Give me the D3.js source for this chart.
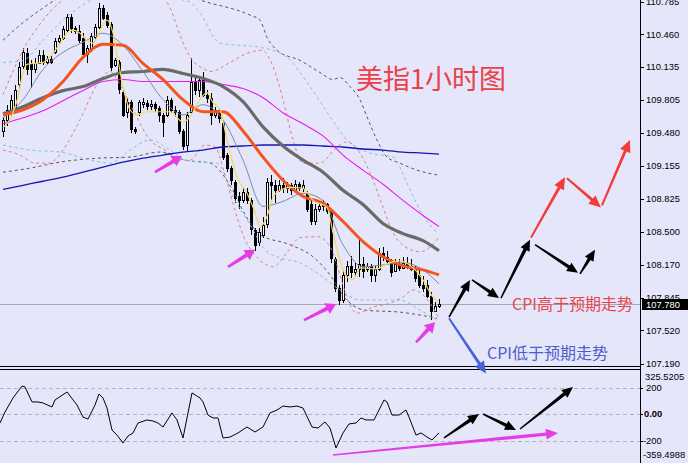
<!DOCTYPE html>
<html><head><meta charset="utf-8">
<script src="https://cdn.jsdelivr.net/npm/d3@7"></script>
<style>html,body{margin:0;padding:0;background:#E6E6FA;}svg{display:block}</style>
</head><body>
<svg id="c" width="688" height="463"></svg>
<script>
// ---------- DATA (USD index, 1-hour candles) ----------
const opens = [109.50,109.61,109.69,109.73,109.96,110.14,110.27,110.16,110.11,110.17,
110.25,110.18,110.21,110.28,110.39,110.42,110.50,110.63,110.52,110.49,
110.42,110.26,110.32,110.43,110.53,110.72,110.65,110.56,110.15,110.18,
109.89,109.69,109.79,109.52,109.69,109.77,109.78,109.75,109.77,109.73,
109.66,109.66,109.81,109.71,109.69,109.50,109.36,109.69,109.99,109.91,
110.01,109.86,109.83,109.66,109.71,109.58,109.26,109.13,108.99,108.85,
108.81,108.89,108.81,108.52,108.40,108.47,108.57,108.99,108.96,108.91,
108.96,108.93,108.96,108.91,108.97,108.93,108.88,108.77,108.60,108.72,
108.75,108.77,108.70,108.23,107.94,107.82,108.07,108.16,108.10,108.13,
108.18,108.13,108.16,108.07,108.13,108.29,108.25,108.21,108.11,108.18,
108.14,108.19,108.16,108.13,108.07,107.97,107.97,107.86,107.71,107.76];
const highs = [109.64,109.76,109.86,109.96,110.18,110.32,110.32,110.20,110.22,110.30,
110.30,110.24,110.24,110.42,110.45,110.54,110.66,110.66,110.54,110.55,
110.47,110.35,110.47,110.56,110.77,110.75,110.68,110.58,110.22,110.20,
109.91,109.83,109.81,109.54,109.81,109.83,109.81,109.81,109.79,109.75,
109.68,109.85,109.83,109.75,109.71,109.52,109.69,110.22,110.03,110.04,
110.08,109.91,109.88,109.74,109.73,109.60,109.28,109.15,109.01,108.89,
108.93,108.93,108.83,108.54,108.54,108.64,109.03,109.06,109.01,109.01,
109.03,108.99,108.98,109.01,108.99,109.01,108.90,108.81,108.77,108.78,
108.81,108.78,108.72,108.25,107.97,108.11,108.21,108.26,108.19,108.42,
108.25,108.19,108.18,108.16,108.34,108.35,108.31,108.23,108.23,108.23,
108.25,108.25,108.23,108.16,108.13,108.06,108.02,107.90,107.80,107.83];
const lows = [109.44,109.55,109.64,109.69,109.93,110.11,110.06,109.93,110.07,110.16,
110.15,110.16,110.16,110.26,110.36,110.40,110.48,110.47,110.46,110.37,
110.23,110.17,110.28,110.41,110.51,110.60,110.52,110.09,110.13,109.87,
109.64,109.63,109.48,109.47,109.65,109.73,109.71,109.71,109.69,109.59,
109.44,109.64,109.68,109.64,109.47,109.31,109.29,109.69,109.86,109.84,
109.84,109.78,109.56,109.63,109.58,109.21,109.09,108.96,108.78,108.72,
108.78,108.77,108.47,108.31,108.36,108.44,108.54,108.81,108.78,108.89,
108.88,108.88,108.86,108.88,108.90,108.89,108.69,108.57,108.57,108.69,
108.70,108.67,108.19,107.90,107.77,107.79,108.00,108.04,108.05,108.05,
108.04,108.10,108.00,108.00,108.11,108.21,108.18,108.05,108.11,108.11,
108.13,108.13,108.11,108.00,107.94,107.90,107.84,107.62,107.70,107.74];
const closes = [109.61,109.71,109.81,109.91,110.13,110.28,110.11,110.11,110.17,110.25,
110.18,110.21,110.18,110.39,110.42,110.51,110.63,110.52,110.49,110.40,
110.26,110.32,110.44,110.53,110.72,110.62,110.55,110.13,110.20,109.91,
109.66,109.79,109.52,109.50,109.79,109.79,109.75,109.77,109.73,109.66,
109.59,109.81,109.71,109.69,109.50,109.35,109.66,109.99,109.91,110.01,
109.86,109.83,109.66,109.71,109.63,109.24,109.13,109.01,108.83,108.81,
108.89,108.81,108.52,108.37,108.50,108.57,108.99,108.96,108.91,108.96,
108.93,108.96,108.91,108.97,108.93,108.96,108.72,108.60,108.72,108.75,
108.77,108.70,108.23,107.94,107.82,108.07,108.16,108.10,108.13,108.18,
108.11,108.16,108.07,108.13,108.29,108.25,108.21,108.10,108.18,108.14,
108.19,108.16,108.13,108.04,107.97,107.94,107.86,107.71,107.76,107.78];
const lastPrice = 107.780;

// moving averages sampled every 5 bars
const maIdx = [0,5,10,15,20,25,30,35,40,45,50,55,60,65,70,75,80,85,90,95,100,105,109];
const maOrange = [109.66,109.71,109.81,109.99,110.23,110.36,110.35,110.17,110.01,109.81,109.69,109.69,109.50,109.24,109.01,108.85,108.78,108.60,108.40,108.25,108.16,108.12,108.07];
const maGray = [109.67,109.74,109.83,109.90,109.94,110.02,110.08,110.09,110.11,110.07,110.02,109.94,109.79,109.54,109.35,109.21,109.09,108.91,108.77,108.58,108.48,108.41,108.31];
const maMagenta = [109.57,109.63,109.70,109.80,109.90,109.99,110.01,109.99,109.99,109.99,109.99,109.96,109.92,109.83,109.68,109.57,109.45,109.26,109.11,108.97,108.81,108.66,108.55];
const maBlue = [108.92,108.96,109.00,109.04,109.09,109.14,109.19,109.23,109.26,109.29,109.31,109.34,109.35,109.36,109.36,109.36,109.35,109.34,109.32,109.31,109.29,109.28,109.27];
const maSlate = [109.63,109.81,110.11,110.28,110.38,110.47,110.35,110.09,109.81,109.66,109.76,109.61,109.21,108.75,108.80,108.88,108.81,108.37,108.15,108.17,108.19,108.12,107.98];
// fast MA
const fastIdx = [0,2.5,3.75,4.75,6,7.5,10,12.5,14.25,16,17.5,19.25,21,22.5,24.25,26,27.5,28.75,30,31.75,33.5,36,37.5,41.75,45,46.75,48.75,51,52.5,54.25,56,58.5,61,63,64.25,66,67.5,69.25,71.75,75,77.5,81,82.5,84.25,86,87.5,89.25,93.5,96,99.25,102.5,105,107.5,109];
const fastVal = [109.53,109.68,109.84,110.04,110.16,110.17,110.18,110.27,110.37,110.47,110.50,110.47,110.40,110.37,110.50,110.60,110.47,110.20,109.94,109.71,109.66,109.69,109.69,109.69,109.59,109.64,109.78,109.88,109.78,109.71,109.41,109.04,108.88,108.69,108.55,108.65,108.84,108.91,108.94,108.93,108.81,108.74,108.49,108.21,108.05,108.02,108.14,108.13,108.18,108.21,108.14,108.02,107.85,107.80];

// envelope bands [barIndex, price]
const pinkUp = [[0,109.86],[5,110.30],[10,110.60],[15,110.80],[20,110.88],[25,110.90],[30,110.88],[35,110.85],[40,110.82],[42,110.70],[44.25,110.45],[47,110.22],[50,110.12],[52,110.09],[56.75,110.18],[61.75,110.28],[64.75,110.30],[67.5,110.14],[70,109.81],[72.5,109.41],[75,109.18],[79.25,109.18],[83.5,109.34],[86,109.39],[89.25,109.28],[92.5,109.01],[95,108.74],[97.5,108.49],[100.5,108.35],[104.25,108.30],[109,108.44]];
const pinkLo = [[0,109.31],[4.25,109.26],[8,109.18],[11.75,109.18],[15,109.31],[19.25,109.61],[23.5,109.96],[26.75,110.09],[29.25,109.96],[32.5,109.71],[36.75,109.41],[40.5,109.31],[44.25,109.21],[46.75,109.21],[50.5,109.36],[53,109.34],[55.5,109.06],[58,108.71],[60.5,108.42],[62.5,108.29],[65,108.19],[67.5,108.15],[71,108.29],[74.25,108.44],[78.5,108.45],[81.75,108.35],[84.25,108.07],[86,107.84],[88.5,107.69],[92.5,107.75],[96.75,107.79],[100,107.85],[102.5,107.92],[105.5,107.85],[109,107.64]];
const cyanUp = [[0,110.18],[5,110.20],[10,110.40],[15,110.60],[20,110.75],[25,110.85],[31.75,110.88],[36.75,110.85],[41.75,110.82],[46.75,110.78],[49.25,110.67],[54.25,110.37],[59.25,110.35],[64.25,110.33],[71,110.23],[76.75,109.94],[81.75,109.64],[86,109.41],[91.75,109.28],[97.5,109.24],[101,108.98],[104.25,108.71],[108.5,108.49]];
const cyanLo = [[0,109.36],[6.75,109.31],[14.25,109.29],[21.75,109.21],[26.75,109.18],[31.75,109.31],[36.75,109.41],[41.75,109.31],[45.5,109.21],[49.25,109.19],[53.5,109.18],[58,108.81],[61.75,108.57],[65.5,108.32],[69.25,108.24],[74.25,108.19],[79.25,108.07],[84.25,107.92],[89.25,107.82],[94.25,107.82],[99.25,107.82],[104.25,107.72],[108.5,107.62]];
const darkUp = [[0,110.40],[4.25,110.55],[9.25,110.70],[13,110.80],[19.25,110.95],[36.75,111.00],[49.25,110.80],[61.75,110.65],[64.25,110.60],[66,110.43],[68.5,110.30],[74.25,110.20],[79.25,110.08],[82.5,110.01],[84.25,110.03],[86.75,109.94],[89.25,109.81],[91,109.64],[93.5,109.41],[96,109.24],[99.25,109.18],[103.5,109.11],[109,109.06]];
const darkLo = [[0,109.09],[6.75,109.13],[14.25,109.19],[24.25,109.23],[31.75,109.24],[39.25,109.29],[45.5,109.21],[51.75,109.18],[56.75,108.96],[60.5,108.67],[64.25,108.47],[71.75,108.37],[77.5,108.25],[81.75,108.07],[85.5,107.84],[90.5,107.72],[99.25,107.70],[108.5,107.64]];

// oscillator (CCI)
const oscIdx = [-0.75,0.5,2.5,4.75,5.5,7.25,8.75,10,12.25,13,16,18.5,20,21.25,23,24,25,26,27.25,28.5,30,31.25,32.5,33.75,36,37.5,38.75,40,42.25,43.5,45,47.25,49.25,50,51.25,52.5,53.75,55,56.75,58.75,61,63,65,66.75,68.5,70,71.75,73.5,75,77.25,78.75,80.5,81.75,83.25,85,86.5,88.25,89.5,90.75,92.75,94,95.25,96,97.25,99,100.75,101.5,103.25,104.5,106,107.25,109];
const oscVal = [-68,15,121,211,204,91,91,83,53,106,166,68,-23,-38,68,151,121,45,-121,-159,-219,-166,-143,-68,-45,-53,-68,-98,8,-45,-181,159,121,91,-8,-30,-30,-181,-174,-143,-98,-136,-98,8,30,60,53,60,45,-98,-106,-60,-106,-257,-143,-75,-68,-30,-45,-45,30,106,91,-8,-8,30,-23,-159,-143,-174,-196,-143];

// axis ticks
const priceTicks = [110.785,110.460,110.135,109.805,109.480,109.155,108.825,108.500,108.170,107.845,107.520,107.190];
const oscTicks = [200,0,-200];
const oscTickLabels = ["200","0.00","-200"];
const oscMax = 325.5205, oscMin = -359.4988;

// annotation arrows [fromBar, fromValue, toBar, toValue]
const blackArrows = [[111.5,107.65,116.75,108.02],[117.25,108.02,124,107.84],[124.5,107.84,131.75,108.42],[133,108.37,143.75,108.09],[144.25,108.08,148,108.32]];
const redArrows = [[132,108.44,140.5,109.04],[141,109.03,149.5,108.74],[149.75,108.76,156.75,109.41]];
const blueArrows = [[111.5,107.64,120.75,107.09]];
const pinkArrows = [[38,109.09,44.75,109.25],[56.25,108.15,63,108.32],[75.25,107.62,83.25,107.78],[103.25,107.40,108,107.60]];
const oscBlackArrows = [[110.25,-181,119,0],[120,0,128.25,-121],[129.25,-113,142.5,204]];
const oscPinkArrows = [[82.5,-310,138.75,-143]];

const title = "美指1小时图";
const labelUp = "CPI高于预期走势";
const labelDown = "CPI低于预期走势";

// ---------- DRAW ----------
const svg = d3.select("#c");
const W = 688, H = 463, axisX = 640;
const x = d3.scaleLinear().domain([0,109]).range([3,439]);
const y = d3.scaleLinear().domain([107.190,110.785]).range([363.5,1.5]);
const yo = d3.scaleLinear().domain([-200,200]).range([440.5,387.5]);

svg.append("rect").attr("width",W).attr("height",H).attr("fill","#E6E6FA");
const defs = svg.append("defs");
defs.append("clipPath").attr("id","cm").append("rect").attr("x",0).attr("y",0).attr("width",axisX).attr("height",366);
defs.append("clipPath").attr("id","cs").append("rect").attr("x",0).attr("y",370).attr("width",axisX).attr("height",93);

const main = svg.append("g").attr("clip-path","url(#cm)");
// current price line
main.append("line").attr("x1",0).attr("x2",axisX).attr("y1",Math.round(y(lastPrice))+0.5).attr("y2",Math.round(y(lastPrice))+0.5)
  .attr("stroke","#A8A8B4").attr("stroke-width",1);

// candles
const bars = d3.range(opens.length).map(i=>({i,o:opens[i],h:highs[i],l:lows[i],c:closes[i]}));
const cg = main.append("g").attr("shape-rendering","crispEdges");
bars.forEach(b=>{
  const cx = Math.round(x(b.i));
  cg.append("line").attr("x1",cx+0.5).attr("x2",cx+0.5).attr("y1",y(b.h)).attr("y2",y(b.l)).attr("stroke","#000").attr("stroke-width",1);
  const top = y(Math.max(b.o,b.c)), bot = y(Math.min(b.o,b.c));
  const bull = b.c >= b.o;
  cg.append("rect").attr("x",cx-0.5).attr("y",Math.round(top)+0.5).attr("width",2).attr("height",Math.max(1,Math.round(bot-top)))
    .attr("fill",bull?"#FFFFFF":"#000").attr("stroke","#000").attr("stroke-width",1);
});

const pairLine = d3.line().x(d=>x(d[0])).y(d=>y(d[1])).curve(d3.curveMonotoneX);
function band(data,color){
  main.append("path").datum(data).attr("d",pairLine).attr("fill","none").attr("stroke",color).attr("stroke-width",1).attr("stroke-dasharray","3,3");
}
band(darkUp,"#55555F"); band(darkLo,"#55555F");
band(cyanUp,"#7EC3DC"); band(cyanLo,"#7EC3DC");
band(pinkUp,"#E27C7C"); band(pinkLo,"#E27C7C");

function ma(vals,color,w){
  const pts = maIdx.map((k,j)=>[k,vals[j]]);
  main.append("path").datum(pts).attr("d",pairLine).attr("fill","none").attr("stroke",color).attr("stroke-width",w).attr("stroke-linejoin","round");
}
ma(maBlue,"#1414B4",1.3);
ma(maMagenta,"#EA1CEA",1.1);
ma(maGray,"#6A6A6A",3.2);
ma(maSlate,"#7D8CA3",1);
ma(maOrange,"#F2561E",3);
main.append("path").datum(fastIdx.map((k,j)=>[k,fastVal[j]])).attr("d",pairLine).attr("fill","none").attr("stroke","#F0D85A").attr("stroke-width",1.2);

// sub panel
const sub = svg.append("g").attr("clip-path","url(#cs)");
oscTicks.forEach(v=>{
  sub.append("line").attr("x1",0).attr("x2",axisX).attr("y1",Math.round(yo(v))+0.5).attr("y2",Math.round(yo(v))+0.5)
    .attr("stroke","#B4B4BE").attr("stroke-dasharray","4,3");
});
sub.append("path").datum(oscIdx.map((k,j)=>[k,oscVal[j]]))
  .attr("d",d3.line().x(d=>x(d[0])).y(d=>yo(d[1])))
  .attr("fill","none").attr("stroke","#000").attr("stroke-width",1);

// frames
const fr = svg.append("g").attr("shape-rendering","crispEdges");
fr.append("line").attr("x1",0).attr("x2",axisX).attr("y1",366.5).attr("y2",366.5).attr("stroke","#000");
fr.append("line").attr("x1",0).attr("x2",axisX).attr("y1",369.5).attr("y2",369.5).attr("stroke","#000");
fr.append("line").attr("x1",axisX+0.5).attr("x2",axisX+0.5).attr("y1",0).attr("y2",H).attr("stroke","#000");

// price axis
const ax = svg.append("g").attr("font-family","Liberation Sans, Arial, sans-serif").attr("font-size","9.4px").attr("fill","#000");
priceTicks.forEach(p=>{
  const yy = y(p);
  fr.append("line").attr("x1",axisX).attr("x2",axisX+4).attr("y1",Math.round(yy)+0.5).attr("y2",Math.round(yy)+0.5).attr("stroke","#000");
  ax.append("text").attr("x",646).attr("y",yy).attr("dy","0.35em").text(p.toFixed(3));
});
const ly = y(lastPrice);
svg.append("rect").attr("x",642).attr("y",Math.round(ly)-5).attr("width",46).attr("height",11).attr("fill","#000");
svg.append("text").attr("x",646).attr("y",ly+0.5).attr("dy","0.35em").attr("font-family","Liberation Sans, Arial, sans-serif").attr("font-size","9.4px").attr("fill","#fff").text(lastPrice.toFixed(3));

// osc axis
oscTicks.forEach((v,k)=>{
  const yy = yo(v);
  fr.append("line").attr("x1",axisX).attr("x2",axisX+3).attr("y1",Math.round(yy)+0.5).attr("y2",Math.round(yy)+0.5).attr("stroke","#000");
  ax.append("text").attr("x",v<0?643:(v===0?644:646)).attr("y",yy).attr("dy","0.35em").attr("font-weight",v===0?"bold":null).text(oscTickLabels[k]);
});
ax.append("text").attr("x",645).attr("y",yo(oscMax)+6).attr("dy","0.35em").text(oscMax.toFixed(4));
ax.append("text").attr("x",643).attr("y",yo(oscMin)-7).attr("dy","0.35em").text(oscMin.toFixed(4));

// arrows
function arrow(g,x1,y1,x2,y2,color,w0,w1,hl,hw){
  const dx=x2-x1, dy=y2-y1, L=Math.hypot(dx,dy), ux=dx/L, uy=dy/L, px=-uy, py=ux;
  const bx=x2-ux*hl, by=y2-uy*hl;
  const pts=[[x1+px*w0/2,y1+py*w0/2],[bx+px*w1/2,by+py*w1/2],[bx+px*hw,by+py*hw],[x2,y2],
             [bx-px*hw,by-py*hw],[bx-px*w1/2,by-py*w1/2],[x1-px*w0/2,y1-py*w0/2]];
  g.append("path").attr("d","M"+pts.map(p=>p[0].toFixed(2)+","+p[1].toFixed(2)).join("L")+"Z").attr("fill",color);
}
const ag = svg.append("g");
pinkArrows.forEach(a=>arrow(ag,x(a[0]),y(a[1]),x(a[2]),y(a[3]),"#E63CE6",2.5,4,10,6));
blackArrows.forEach(a=>arrow(ag,x(a[0]),y(a[1]),x(a[2]),y(a[3]),"#000",1.5,3.5,11,5));
redArrows.forEach(a=>arrow(ag,x(a[0]),y(a[1]),x(a[2]),y(a[3]),"#F23B3B",2,3,12,5.5));
blueArrows.forEach(a=>arrow(ag,x(a[0]),y(a[1]),x(a[2]),y(a[3]),"#4763D6",2,3,12,5.5));
oscBlackArrows.forEach(a=>arrow(ag,x(a[0]),yo(a[1]),x(a[2]),yo(a[3]),"#000",1.5,3.5,11,5));
oscPinkArrows.forEach(a=>arrow(ag,x(a[0]),yo(a[1]),x(a[2]),yo(a[3]),"#E63CE6",1.5,3.5,12,5.5));

// texts
const cjk = "'Noto Sans CJK SC','Noto Sans',sans-serif";
svg.append("text").attr("x",356).attr("y",89).attr("font-family",cjk).attr("font-size","27px").attr("fill","#EC4048").text(title);
svg.append("text").attr("x",512).attr("y",310).attr("font-family",cjk).attr("font-size","16px").attr("fill","#E8454D").text(labelUp);
svg.append("text").attr("x",487).attr("y",359).attr("font-family",cjk).attr("font-size","16px").attr("fill","#4B5FC9").text(labelDown);
</script>
</body></html>
